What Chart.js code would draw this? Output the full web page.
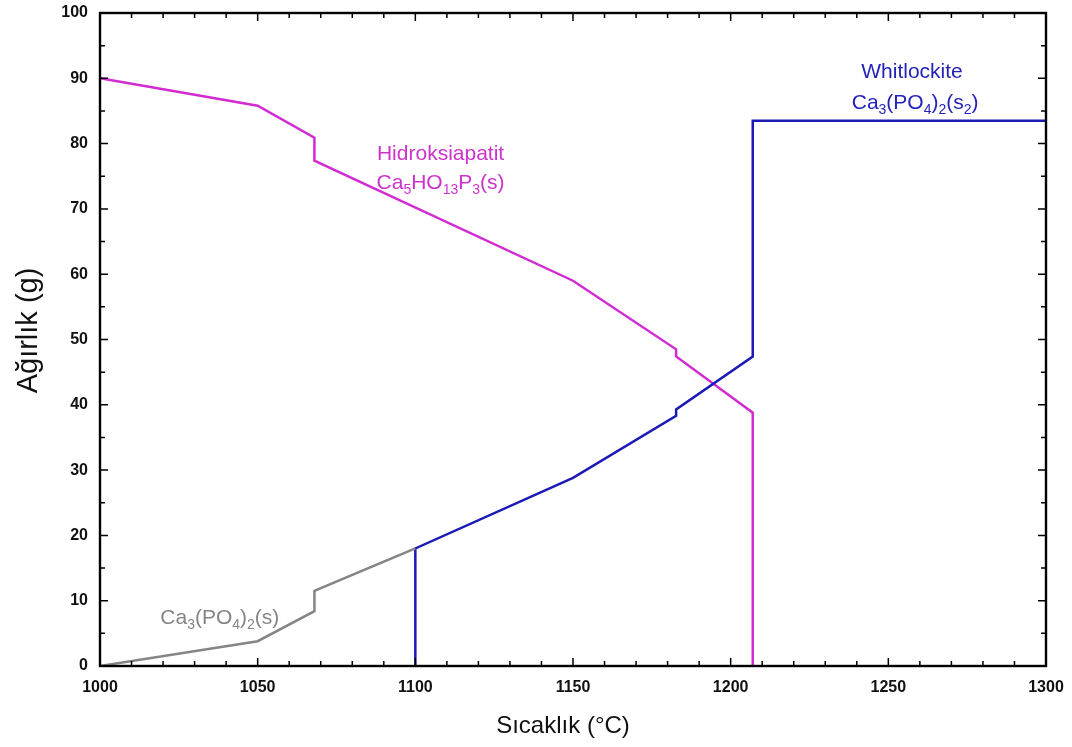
<!DOCTYPE html>
<html>
<head>
<meta charset="utf-8">
<script src="https://cdn.jsdelivr.net/npm/chart.js@4"></script>
<style>
  html, body { margin: 0; padding: 0; background: #fff; }
  #wrap { width: 1072px; height: 747px; }
</style>
</head>
<body>
<div id="wrap"><canvas id="chart"></canvas></div>
<script>
// temperature (°C) / mass (g) for each phase
const hapT = [1000, 1050, 1068, 1068, 1150, 1182.7, 1182.7, 1207, 1207];
const hapW = [90, 85.8, 80.9, 77.4, 59, 48.5, 47.4, 38.8, 0];
const whitT = [1100, 1100, 1150, 1182.7, 1182.7, 1207, 1207, 1300];
const whitW = [0, 18, 28.8, 38.3, 39.3, 47.4, 83.5, 83.5];
const tcpT = [1000, 1050, 1068, 1068, 1100];
const tcpW = [0, 3.8, 8.4, 11.5, 18];

const xTicks = [1000, 1050, 1100, 1150, 1200, 1250, 1300];
const yTicks = [0, 10, 20, 30, 40, 50, 60, 70, 80, 90, 100];
const xTitle = 'Sıcaklık (°C)';
const yTitle = 'Ağırlık (g)';

const MAGENTA = '#d12bd1';
const BLUE = '#1a1ab4';
const GREY = '#858585';
const FAMILY = "'Liberation Sans', Arial, sans-serif";

function pts(xs, ys) {
  return xs.map((x, i) => ({ x: x, y: ys[i] }));
}

// phase labels: array of [text, isSubscript] runs, anchored in data units
const phaseLabels = [
  { x: 1108, y: 78.3, color: '#cc33cc', runs: [['Hidroksiapatit', 0]] },
  { x: 1108, y: 74, color: '#cc33cc', runs: [['Ca', 0], ['5', 1], ['HO', 0], ['13', 1], ['P', 0], ['3', 1], ['(s)', 0]] },
  { x: 1257.5, y: 91, color: '#2323b8', runs: [['Whitlockite', 0]] },
  { x: 1258.5, y: 86.2, color: '#2323b8', runs: [['Ca', 0], ['3', 1], ['(PO', 0], ['4', 1], [')', 0], ['2', 1], ['(s', 0], ['2', 1], [')', 0]] },
  { x: 1038, y: 7.3, color: GREY, runs: [['Ca', 0], ['3', 1], ['(PO', 0], ['4', 1], [')', 0], ['2', 1], ['(s)', 0]] }
];

const frame = {
  id: 'frame',
  afterDatasetsDraw(chart) {
    const { ctx, chartArea: a, scales } = chart;
    const sx = scales.x, sy = scales.y;
    ctx.save();
    ctx.strokeStyle = '#000';
    ctx.lineWidth = 1.5;
    // inward ticks on all four sides
    ctx.beginPath();
    for (let v = 1000; v <= 1300; v += 10) {
      const px = sx.getPixelForValue(v);
      const len = v % 50 === 0 ? 8 : 5;
      ctx.moveTo(px, a.bottom); ctx.lineTo(px, a.bottom - len);
      ctx.moveTo(px, a.top); ctx.lineTo(px, a.top + len);
    }
    for (let v = 0; v <= 100; v += 5) {
      const py = sy.getPixelForValue(v);
      const len = v % 10 === 0 ? 8 : 5;
      ctx.moveTo(a.left, py); ctx.lineTo(a.left + len, py);
      ctx.moveTo(a.right, py); ctx.lineTo(a.right - len, py);
    }
    ctx.stroke();
    ctx.lineWidth = 2.4;
    ctx.strokeRect(a.left, a.top, a.right - a.left, a.bottom - a.top);

    // axis titles
    ctx.fillStyle = '#111';
    ctx.textAlign = 'center';
    ctx.textBaseline = 'middle';
    ctx.font = '24px ' + FAMILY;
    ctx.fillText(xTitle, (a.left + a.right) / 2 - 10, a.bottom + 60);
    ctx.save();
    ctx.translate(a.left - 71, (a.top + a.bottom) / 2 - 9);
    ctx.rotate(-Math.PI / 2);
    ctx.font = '29px ' + FAMILY;
    ctx.fillText(yTitle, 0, 0);
    ctx.restore();

    // labels with subscripts
    const big = '21px ' + FAMILY;
    const small = '14px ' + FAMILY;
    ctx.textAlign = 'left';
    phaseLabels.forEach(l => {
      let w = 0;
      l.runs.forEach(r => { ctx.font = r[1] ? small : big; w += ctx.measureText(r[0]).width; });
      let px = sx.getPixelForValue(l.x) - w / 2;
      const py = sy.getPixelForValue(l.y);
      ctx.fillStyle = l.color;
      l.runs.forEach(r => {
        ctx.font = r[1] ? small : big;
        ctx.fillText(r[0], px, r[1] ? py + 7 : py);
        px += ctx.measureText(r[0]).width;
      });
    });
    ctx.restore();
  }
};

const ctx = document.getElementById('chart');

new Chart(ctx, {
  type: 'line',
  data: {
    datasets: [{
      data: pts(tcpT, tcpW),
      borderColor: GREY,
      borderWidth: 2.5
    }, {
      data: pts(whitT, whitW),
      borderColor: BLUE,
      borderWidth: 2.5
    }, {
      data: pts(hapT, hapW),
      borderColor: MAGENTA,
      borderWidth: 2.5
    }]
  },
  options: {
    responsive: true,
    maintainAspectRatio: false,
    animation: false,
    events: [],
    layout: { padding: { top: 13, right: 26, left: 0, bottom: 0 } },
    elements: {
      point: { radius: 0 },
      line: { tension: 0, fill: false }
    },
    plugins: {
      legend: { display: false },
      tooltip: { enabled: false }
    },
    scales: {
      x: {
        type: 'linear',
        min: 1000,
        max: 1300,
        afterBuildTicks: s => { s.ticks = xTicks.map(v => ({ value: v })); },
        afterFit: s => { s.height = 81; s.paddingLeft = 0; s.paddingRight = 0; },
        grid: { display: false, drawTicks: false },
        border: { display: false },
        ticks: {
          padding: 12,
          color: '#111',
          callback: v => String(v),
          font: { size: 16, weight: 'bold', family: FAMILY }
        }
      },
      y: {
        min: 0,
        max: 100,
        afterBuildTicks: s => { s.ticks = yTicks.map(v => ({ value: v })); },
        afterFit: s => { s.width = 100; s.paddingTop = 0; s.paddingBottom = 0; },
        grid: { display: false, drawTicks: false },
        border: { display: false },
        ticks: {
          padding: 12,
          color: '#111',
          callback: v => String(v),
          font: { size: 16, weight: 'bold', family: FAMILY }
        }
      }
    }
  },
  plugins: [frame]
});
</script>
</body>
</html>
